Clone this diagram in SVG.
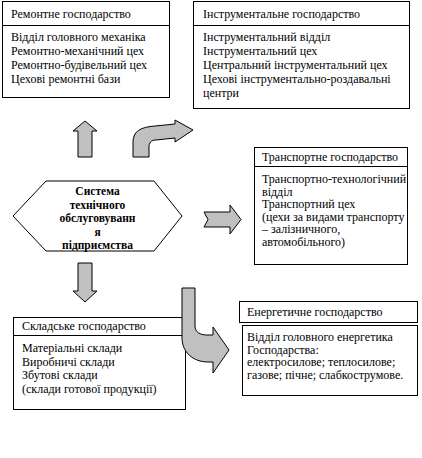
<svg xmlns="http://www.w3.org/2000/svg" width="422" height="458" viewBox="0 0 422 458">
<defs>
<style>
.box{fill:#fff;stroke:#000;stroke-width:1}
.div{stroke:#000;stroke-width:1}
.arr{fill:#c0c0c0;stroke:#000;stroke-width:1;stroke-linejoin:miter}
.t{font-family:'Liberation Serif','Times New Roman',serif;font-size:12px;fill:#000}
.hb{font-family:'Liberation Serif','Times New Roman',serif;font-size:11.5px;font-weight:bold;text-anchor:middle;fill:#000}
</style>
</defs>
<rect width="422" height="458" fill="#fff"/>
<g id="remont">
<rect class="box" x="2.5" y="1.5" width="167" height="96"/>
<line class="div" x1="2.5" y1="25.5" x2="169.5" y2="25.5"/>
<text class="t" x="11" y="18">Ремонтне господарство</text>
<text class="t" x="11" y="41">Відділ головного механіка</text>
<text class="t" x="11" y="55">Ремонтно-механічний цех</text>
<text class="t" x="11" y="69">Ремонтно-будівельний цех</text>
<text class="t" x="11" y="83">Цехові ремонтні бази</text>
</g>
<g id="instrument">
<rect class="box" x="193.5" y="1.5" width="216" height="107"/>
<line class="div" x1="193.5" y1="25.5" x2="409.5" y2="25.5"/>
<text class="t" x="203" y="18">Інструментальне господарство</text>
<text class="t" x="203" y="41">Інструментальний відділ</text>
<text class="t" x="203" y="55">Інструментальний цех</text>
<text class="t" x="203" y="69">Центральний інструментальний цех</text>
<text class="t" x="203" y="83">Цехові інструментально-роздавальні</text>
<text class="t" x="203" y="97">центри</text>
</g>
<g id="transport">
<rect class="box" x="254.5" y="147.5" width="153" height="117"/>
<line class="div" x1="254.5" y1="166.5" x2="407.5" y2="166.5"/>
<text class="t" x="262" y="161">Транспортне господарство</text>
<text class="t" x="262" y="183">Транспортно-технологічний</text>
<text class="t" x="262" y="195.5">відділ</text>
<text class="t" x="262" y="208">Транспортний цех</text>
<text class="t" x="262" y="220.5">(цехи за видами транспорту</text>
<text class="t" x="262" y="233">– залізничного,</text>
<text class="t" x="262" y="245.5">автомобільного)</text>
</g>
<g id="sklad">
<rect class="box" x="13.5" y="317.5" width="172" height="92"/>
<line class="div" x1="13.5" y1="335.5" x2="185.5" y2="335.5"/>
<text class="t" x="22" y="330">Складське господарство</text>
<text class="t" x="22" y="352">Матеріальні склади</text>
<text class="t" x="22" y="365.5">Виробничі склади</text>
<text class="t" x="22" y="379">Збутові склади</text>
<text class="t" x="22" y="392.5">(склади готової продукції)</text>
</g>
<g id="energy">
<rect class="box" x="239.5" y="301.5" width="178" height="21"/>
<text class="t" x="247" y="316">Енергетичне господарство</text>
<rect class="box" x="242.5" y="325.5" width="175" height="70"/>
<text class="t" x="247" y="341">Відділ головного енергетика</text>
<text class="t" x="247" y="353.5">Господарства:</text>
<text class="t" x="247" y="366">електросилове; теплосилове;</text>
<text class="t" x="247" y="378.5">газове; пічне; слабкострумове.</text>
</g>
<g id="system">
<polygon class="box" points="13,216 46,181 154,181 182,216 154,251 46,251"/>
<text class="hb" x="97.5" y="195">Система</text>
<text class="hb" x="97.5" y="208.5">технічного</text>
<text class="hb" x="97.5" y="222">обслуговуванн</text>
<text class="hb" x="97.5" y="235.5">я</text>
<text class="hb" x="97.5" y="249">підприємства</text>
</g>
<g id="connectors">
<polygon class="arr" points="85,121 97,131 92,131 92,157 78,157 78,131 73,131"/>
<path class="arr" d="M133,157 L133,142 C133,131 141,127 155,126 L175,124 L175,120 L193,130 L175,142 L175,138 L156,140 C151,140 149,143 149,147 L149,157 Z"/>
<polygon class="arr" points="204,212 230,212 230,205 241,219.5 230,234 230,227 204,227 208,219.5"/>
<polygon class="arr" points="78,263 92,263 92,291 97,291 85,302 73,291 78,291"/>
<path class="arr" d="M182,288 L195,288 L195,326 C195,332 200,335 207,335 L213,335 L213,327 L229,350 L213,373 L213,362 L208,362 C193,362 182,352 182,338 Z"/>
</g>
</svg>
